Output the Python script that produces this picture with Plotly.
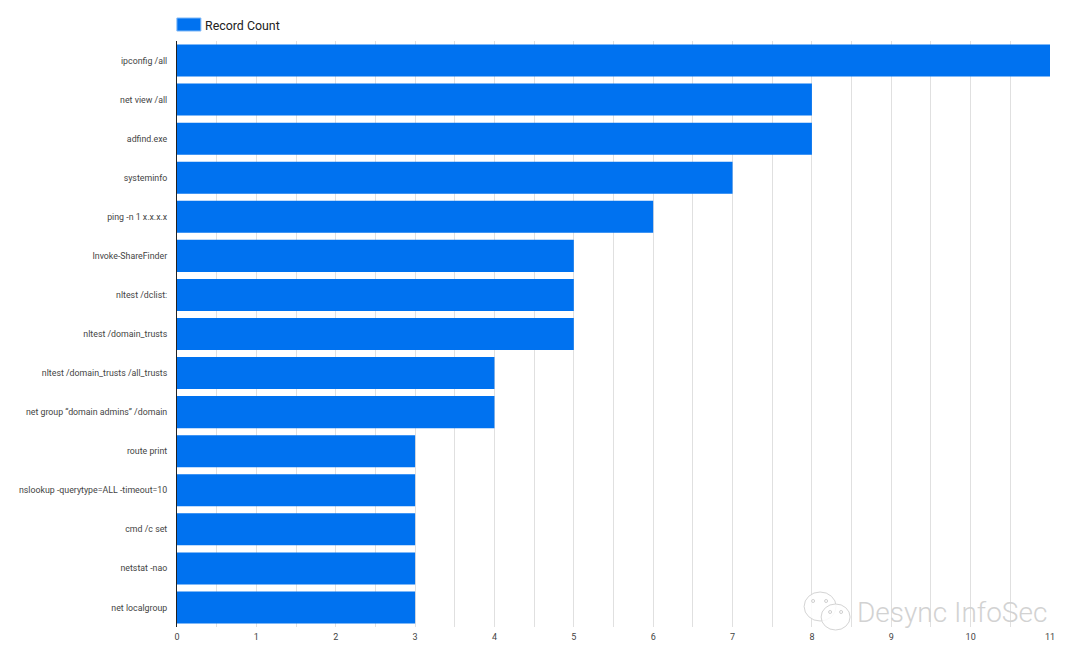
import plotly.graph_objects as go

categories = ["ipconfig /all", "net view /all", "adfind.exe", "systeminfo", "ping -n 1 x.x.x.x",
              "Invoke-ShareFinder", "nltest /dclist:", "nltest /domain_trusts",
              "nltest /domain_trusts /all_trusts", "net group \u201cdomain admins\u201d /domain",
              "route print", "nslookup -querytype=ALL -timeout=10", "cmd /c set",
              "netstat -nao", "net localgroup"]
record_count = [11, 8, 8, 7, 6, 5, 5, 5, 4, 4, 3, 3, 3, 3, 3]
series_name = "Record Count"
tick_values = list(range(12))

# The page body has an 8px margin, so the figure sits 8px in from the window corner.
OFFSET = 8
W, H = 1080 - 2 * OFFSET, 663 - 2 * OFFSET
L, R, T, B = 176.6, 1050, 41, 627  # plot area in window pixels
BLUE = "#0072F0"

fig = go.Figure(go.Bar(y=categories, x=record_count, orientation="h", name=series_name,
                       marker=dict(color=BLUE, line=dict(width=0)), showlegend=False))

def rx(x): return (x - L) / (R - L)
def ry(y): return (B - y) / (B - T)

shapes = [dict(type="rect", xref="paper", yref="paper", layer="above",
               x0=rx(176.5), x1=rx(200.5), y0=ry(31), y1=ry(18),
               fillcolor=BLUE, line=dict(width=1, color="#7FB8F7"))]

# watermark logo: two speech bubbles with eyes
for x0, x1, y0, y1 in [(804, 836, 592, 621), (821, 850, 604, 630)]:
    shapes.append(dict(type="circle", xref="paper", yref="paper", layer="above",
                       x0=rx(x0), x1=rx(x1), y0=ry(y1), y1=ry(y0),
                       fillcolor="rgba(255,255,255,0.85)", line=dict(width=1, color="#D4D4D4")))
for cx, cy in [(813, 601), (826, 601), (830, 612), (841, 612)]:
    shapes.append(dict(type="circle", xref="paper", yref="paper", layer="above",
                       x0=rx(cx - 1.5), x1=rx(cx + 1.5), y0=ry(cy + 1.5), y1=ry(cy - 1.5),
                       fillcolor="white", line=dict(width=1, color="#CFCFCF")))

annotations = [
    dict(text=series_name, xref="paper", yref="paper", x=rx(203), y=ry(25), xanchor="left", yanchor="middle",
         showarrow=False, font=dict(family="Roboto", size=12.4, color="#222222")),
    dict(text="Desync InfoSec", xref="paper", yref="paper", x=rx(854.5), y=ry(612), xanchor="left", yanchor="middle",
         showarrow=False, font=dict(family="Roboto", size=28, weight=300, color="#D2D2D2")),
]

fig.update_layout(
    width=W, height=H, autosize=False,
    margin=dict(l=L - OFFSET, r=W + OFFSET - R, t=T - OFFSET, b=H + OFFSET - B, pad=0),
    paper_bgcolor="white", plot_bgcolor="white",
    bargap=0.18, shapes=shapes, annotations=annotations,
    font=dict(family="Roboto", size=9, color="#444444"),
)
fig.update_xaxes(automargin=False, range=[0, 11], tickmode="array", tickvals=tick_values,
                 ticktext=[str(v) for v in tick_values],
                 showgrid=True, gridcolor="#E0E0E0", gridwidth=1, zeroline=False,
                 minor=dict(dtick=0.5, showgrid=True, gridcolor="#E0E0E0", gridwidth=1, ticks=""),
                 tickfont=dict(family="Roboto", size=9, color="#444444"), ticks="outside", ticklen=1,
                 tickcolor="rgba(0,0,0,0)", showline=False)
fig.update_yaxes(automargin=False, autorange="reversed", categoryorder="array", categoryarray=categories,
                 showgrid=False, showline=True, linecolor="#222222", linewidth=1, ticks="outside", ticklen=7,
                 tickcolor="rgba(0,0,0,0)", tickfont=dict(family="Roboto", size=8.8, color="#444444"), zeroline=False)

fig.write_html("out.html")
